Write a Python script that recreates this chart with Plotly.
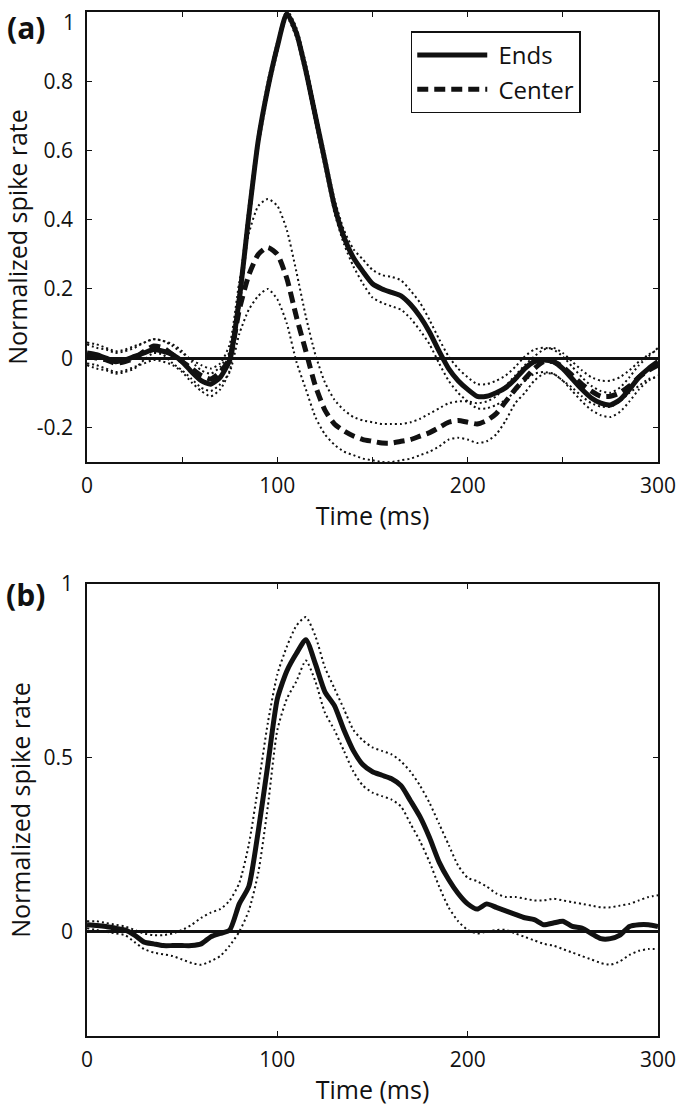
import plotly.graph_objects as go

# ---------------- data ----------------
t = list(range(0, 301, 5))

# panel (a) : Ends
ends_a = [0.015, 0.01, 0.0, -0.01, -0.005, 0.005, 0.015, 0.025, 0.02, 0.01, -0.01,
          -0.04, -0.065, -0.075, -0.055, -0.005, 0.17, 0.41, 0.63, 0.78, 0.9,
          0.995, 0.94, 0.83, 0.7, 0.57, 0.44, 0.35, 0.29, 0.25, 0.215,
          0.2, 0.19, 0.18, 0.155, 0.12, 0.075, 0.02, -0.03, -0.065, -0.09,
          -0.11, -0.11, -0.1, -0.085, -0.06, -0.03, -0.01, -0.005, -0.01, -0.03,
          -0.06, -0.09, -0.115, -0.13, -0.135, -0.12, -0.09, -0.055, -0.03, -0.01]
ends_a_hi = [0.045, 0.04, 0.03, 0.02, 0.025, 0.035, 0.045, 0.055, 0.05, 0.04, 0.02,
             -0.01, -0.035, -0.045, -0.025, 0.02, 0.2, 0.44, 0.65, 0.8, 0.915,
             1.005, 0.955, 0.85, 0.72, 0.59, 0.46, 0.37, 0.315, 0.285, 0.255,
             0.24, 0.235, 0.225, 0.195, 0.16, 0.11, 0.055, 0.005, -0.03, -0.055,
             -0.075, -0.075, -0.065, -0.05, -0.025, 0.005, 0.025, 0.03, 0.025, 0.005,
             -0.025, -0.055, -0.08, -0.095, -0.1, -0.085, -0.055, -0.02, 0.005, 0.03]
ends_a_lo = [-0.015, -0.02, -0.03, -0.04, -0.035, -0.025, -0.015, -0.005, -0.01, -0.02, -0.04,
             -0.07, -0.095, -0.11, -0.09, -0.035, 0.14, 0.38, 0.61, 0.76, 0.885,
             0.985, 0.925, 0.81, 0.68, 0.55, 0.42, 0.33, 0.265, 0.215, 0.175,
             0.16, 0.15, 0.14, 0.115, 0.08, 0.04, -0.015, -0.065, -0.1, -0.125,
             -0.145, -0.145, -0.135, -0.12, -0.095, -0.065, -0.045, -0.04, -0.045, -0.065,
             -0.095, -0.125, -0.15, -0.165, -0.17, -0.155, -0.125, -0.09, -0.065, -0.05]

# panel (a) : Center
center_a = [0.01, 0.0, -0.005, -0.015, -0.01, 0.0, 0.02, 0.035, 0.03, 0.01, -0.01,
            -0.03, -0.05, -0.06, -0.04, 0.0, 0.14, 0.24, 0.3, 0.32, 0.3,
            0.23, 0.12, 0.02, -0.08, -0.15, -0.19, -0.21, -0.225, -0.235, -0.24,
            -0.245, -0.245, -0.24, -0.235, -0.225, -0.215, -0.2, -0.185, -0.18, -0.185,
            -0.19, -0.18, -0.16, -0.125, -0.09, -0.06, -0.03, -0.01, -0.01, -0.025,
            -0.05, -0.075, -0.095, -0.11, -0.11, -0.1, -0.08, -0.055, -0.035, -0.02]
center_a_hi = [0.04, 0.03, 0.025, 0.015, 0.02, 0.03, 0.045, 0.055, 0.05, 0.035, 0.015,
               -0.005, -0.02, -0.03, -0.015, 0.04, 0.22, 0.36, 0.44, 0.46, 0.44,
               0.37, 0.25, 0.12, 0.01, -0.07, -0.12, -0.15, -0.17, -0.18, -0.185,
               -0.19, -0.19, -0.19, -0.185, -0.175, -0.16, -0.145, -0.13, -0.125, -0.125,
               -0.13, -0.125, -0.11, -0.08, -0.05, -0.02, 0.005, 0.025, 0.03, 0.015,
               -0.01, -0.035, -0.055, -0.065, -0.065, -0.055, -0.035, -0.01, 0.01, 0.025]
center_a_lo = [-0.02, -0.03, -0.035, -0.045, -0.04, -0.03, -0.005, 0.015, 0.01, -0.015, -0.035,
               -0.06, -0.085, -0.095, -0.075, -0.04, 0.07, 0.14, 0.18, 0.2, 0.17,
               0.1, -0.01, -0.09, -0.17, -0.22, -0.25, -0.27, -0.28, -0.29, -0.295,
               -0.3, -0.3, -0.295, -0.29, -0.28, -0.27, -0.255, -0.235, -0.23, -0.235,
               -0.245, -0.24, -0.22, -0.18, -0.13, -0.1, -0.065, -0.045, -0.045, -0.065,
               -0.085, -0.11, -0.13, -0.14, -0.14, -0.125, -0.1, -0.08, -0.06, -0.055]

# panel (b) : Ends
ends_b = [0.02, 0.018, 0.015, 0.01, 0.005, -0.01, -0.03, -0.035, -0.04, -0.04, -0.04,
          -0.04, -0.035, -0.015, -0.005, 0.005, 0.08, 0.13, 0.29, 0.48, 0.67,
          0.75, 0.8, 0.84, 0.77, 0.69, 0.65, 0.58, 0.52, 0.48, 0.46,
          0.45, 0.44, 0.42, 0.376, 0.33, 0.27, 0.2, 0.15, 0.11, 0.08,
          0.065, 0.08, 0.07, 0.06, 0.05, 0.04, 0.035, 0.02, 0.025, 0.03,
          0.015, 0.01, -0.005, -0.02, -0.02, -0.01, 0.015, 0.02, 0.02, 0.015]
ends_b_hi = [0.03, 0.03, 0.025, 0.02, 0.015, 0.005, -0.005, -0.01, -0.01, -0.005, 0.005,
             0.02, 0.04, 0.055, 0.065, 0.09, 0.14, 0.25, 0.42, 0.6, 0.74,
             0.82, 0.88, 0.905, 0.85, 0.76, 0.7, 0.64, 0.58, 0.55, 0.53,
             0.52, 0.51, 0.49, 0.46, 0.42, 0.37, 0.31, 0.25, 0.19, 0.155,
             0.145, 0.13, 0.11, 0.1, 0.1, 0.095, 0.09, 0.09, 0.095, 0.09,
             0.085, 0.08, 0.075, 0.07, 0.07, 0.075, 0.08, 0.09, 0.1, 0.105]
ends_b_lo = [0.01, 0.005, 0.0, -0.005, -0.01, -0.03, -0.05, -0.06, -0.065, -0.07, -0.08,
             -0.09, -0.095, -0.085, -0.07, -0.04, 0.0, 0.06, 0.17, 0.36, 0.58,
             0.67, 0.72, 0.78, 0.72, 0.63, 0.58, 0.52, 0.46, 0.42, 0.4,
             0.39, 0.38, 0.36, 0.31, 0.26, 0.2, 0.13, 0.07, 0.03, 0.005,
             -0.005, 0.0, 0.005, 0.005, -0.005, -0.015, -0.025, -0.035, -0.04, -0.05,
             -0.06, -0.07, -0.08, -0.09, -0.095, -0.085, -0.067, -0.055, -0.05, -0.05]

x_ticks_a = [0, 50, 100, 150, 200, 250, 300]
x_text_a = ["0", "", "100", "", "200", "", "300"]
x_ticks_b = [0, 100, 200, 300]
y_ticks_a = [-0.2, 0, 0.2, 0.4, 0.6, 0.8, 1]
# the top "1" label of panel (a) sits just below the frame top in the reference,
# so it is drawn as a separate text below
y_text_a = ["-0.2", "0", "0.2", "0.4", "0.6", "0.8", ""]
y_top_label_a = "1"
y_ticks_b = [0, 0.5, 1]
y_text_b = ["0", "0.5", "1"]

# ---------------- figure ----------------
FONT = "Open Sans"
BLACK = "#111111"
fig = go.Figure()

dot = dict(color=BLACK, width=2, dash="2px,3px")
solid = dict(color=BLACK, width=5)
dashed = dict(color=BLACK, width=5, dash="11px,6px")


def add(x, y, line, xa, ya, name=None, legend=False, rank=None):
    fig.add_trace(go.Scatter(x=x, y=y, mode="lines", line=dict(shape="spline", smoothing=0.6, **line),
                             xaxis=xa, yaxis=ya, name=name, showlegend=legend,
                             legendrank=rank if rank else 1000, hoverinfo="skip"))


add(t, center_a_hi, dot, "x", "y")
add(t, center_a_lo, dot, "x", "y")
add(t, ends_a_hi, dot, "x", "y")
add(t, ends_a_lo, dot, "x", "y")
add(t, center_a, dashed, "x", "y", "\u00a0Center", True, 2)
add(t, ends_a, solid, "x", "y", "\u00a0Ends", True, 1)

add(t, ends_b_hi, dot, "x2", "y2")
add(t, ends_b_lo, dot, "x2", "y2")
add(t, ends_b, solid, "x2", "y2")

axis_common = dict(showline=True, linecolor=BLACK, linewidth=1.5, mirror="ticks",
                   ticks="inside", ticklen=5, tickwidth=1.2, tickcolor=BLACK,
                   showgrid=False, automargin=False, ticklabeloverflow="allow",
                   tickfont=dict(family=FONT, size=21, color=BLACK))
title_font = dict(family=FONT, size=25, color=BLACK)

fig.update_layout(
    width=677, height=1108,
    margin=dict(l=87, r=19, t=12, b=72, autoexpand=False),
    paper_bgcolor="white", plot_bgcolor="white",
    font=dict(family=FONT, color=BLACK),
    xaxis=dict(domain=[0, 1], range=[0, 300], anchor="y", tickvals=x_ticks_a, ticktext=x_text_a,
               zeroline=False, ticklabelstandoff=4,
               title=dict(text="Time (ms)", font=title_font, standoff=10), **axis_common),
    yaxis=dict(domain=[0.5605, 1], range=[-0.3, 1], anchor="x", tickvals=y_ticks_a, ticktext=y_text_a,
               zeroline=True, zerolinecolor=BLACK, zerolinewidth=2.5, ticklabelstandoff=8,
               title=dict(text="Normalized spike rate", font=title_font, standoff=6), **axis_common),
    xaxis2=dict(domain=[0, 1], range=[0, 300], anchor="y2", tickvals=x_ticks_b,
                zeroline=False, ticklabelstandoff=4,
                title=dict(text="Time (ms)", font=title_font, standoff=10), **axis_common),
    yaxis2=dict(domain=[0, 0.4414], range=[-0.3, 1], anchor="x2", tickvals=y_ticks_b, ticktext=y_text_b,
                zeroline=True, zerolinecolor=BLACK, zerolinewidth=2.5, ticklabelstandoff=8,
                title=dict(text="Normalized spike rate", font=title_font, standoff=6), **axis_common),
    legend=dict(x=0.567, y=0.981, xanchor="left", yanchor="top", xref="paper", yref="paper",
                bgcolor="white", bordercolor=BLACK, borderwidth=1.5,
                font=dict(family=FONT, size=24, color=BLACK),
                traceorder="normal", itemwidth=70),
    annotations=[
        dict(text="<b>(a)</b>", x=-0.107, y=0.985, xref="paper", yref="paper", showarrow=False,
             xanchor="center", yanchor="middle", font=dict(family=FONT, size=30, color=BLACK)),
        dict(text="<b>(b)</b>", x=-0.107, y=0.431, xref="paper", yref="paper", showarrow=False,
             xanchor="center", yanchor="middle", font=dict(family=FONT, size=30, color=BLACK)),
        dict(text=y_top_label_a, x=-0.0175, y=0.9902, xref="paper", yref="paper", showarrow=False,
             xanchor="right", yanchor="middle", font=dict(family=FONT, size=21, color=BLACK)),
    ],
)

# remove the default page margin so the 677x1108 figure fills the window exactly
fig.write_html("out.html", config={"displayModeBar": False},
               post_script="document.body.style.margin='0px';")
